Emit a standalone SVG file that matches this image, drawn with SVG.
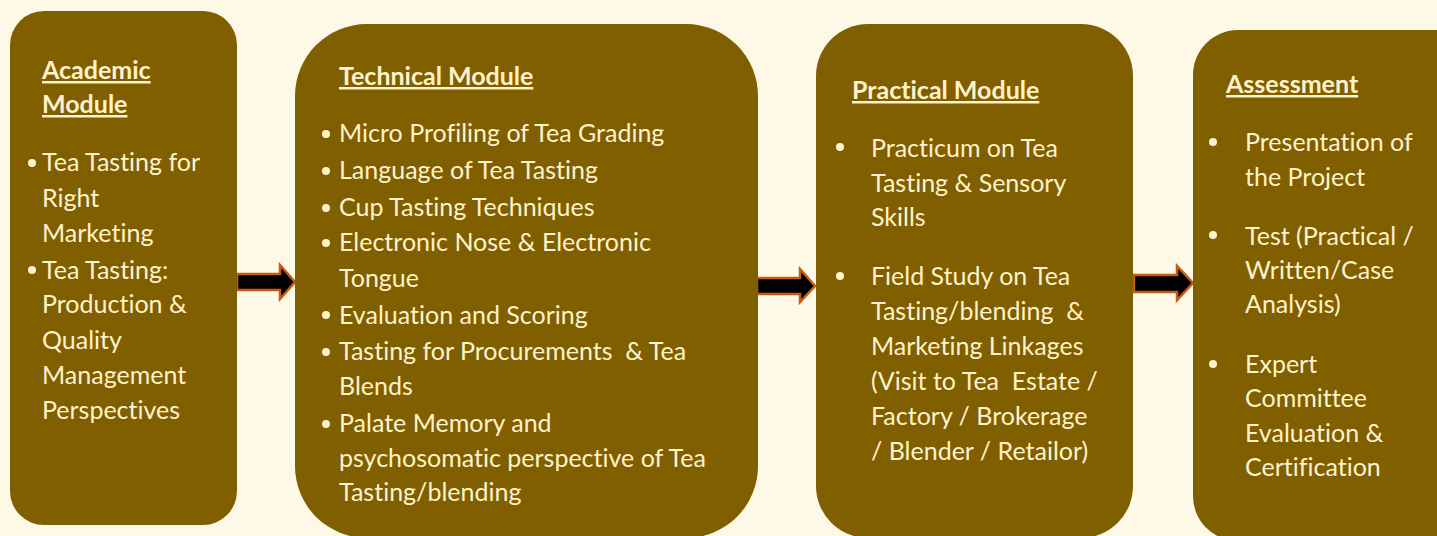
<svg xmlns="http://www.w3.org/2000/svg" width="1437" height="536" viewBox="0 0 1437 536">
<style>
.box{fill:#7F5F00}
text{font-family:Lato,"Open Sans","Liberation Sans",sans-serif;font-size:25px;fill:#FFF2CC;font-variant-ligatures:none}
.t{font-weight:bold;text-decoration:underline}
.dot{fill:#FFF2CC}
.arr{fill:#000000;stroke:#C55A11;stroke-width:2.5;stroke-linejoin:miter}
</style>
<rect width="1437" height="536" fill="#FEF8E7"/>
<g id="connectors">
<path class="arr" d="M237,274 H280 V265 L295,282 L280,299 V290 H237 Z"/>
<path class="arr" d="M757,278 H800 V269 L815,286 L800,302 V294 H757 Z"/>
<path class="arr" d="M1134,275 H1177 V266 L1193,283 L1177,300 V292 H1134 Z"/>
</g>
<g id="academic">
<rect class="box" x="10" y="11" width="227" height="514" rx="34"/>
<text class="t" x="42" y="79">Academic</text>
<text class="t" x="42" y="113">Module</text>
<circle class="dot" cx="32" cy="163" r="4"/>
<text x="42" y="171">Tea Tasting for</text>
<text x="42" y="207">Right</text>
<text x="42" y="242">Marketing</text>
<circle class="dot" cx="32" cy="270" r="4"/>
<text x="42" y="279">Tea Tasting:</text>
<text x="42" y="313">Production &amp;</text>
<text x="42" y="349">Quality</text>
<text x="42" y="384">Management</text>
<text x="42" y="419">Perspectives</text>
</g>
<g id="technical">
<rect class="box" x="295" y="24" width="463" height="514" rx="72"/>
<text class="t" x="339" y="85">Technical Module</text>
<circle class="dot" cx="326" cy="134" r="4"/>
<text x="339" y="142">Micro Profiling of Tea Grading</text>
<circle class="dot" cx="326" cy="171" r="4"/>
<text x="339" y="179">Language of Tea Tasting</text>
<circle class="dot" cx="326" cy="208" r="4"/>
<text x="339" y="216">Cup Tasting Techniques</text>
<circle class="dot" cx="326" cy="243" r="4"/>
<text x="339" y="251">Electronic Nose &amp; Electronic</text>
<text x="339" y="287">Tongue</text>
<circle class="dot" cx="326" cy="315" r="4"/>
<text x="339" y="324">Evaluation and Scoring</text>
<circle class="dot" cx="326" cy="352" r="4"/>
<text x="339" y="360" xml:space="preserve">Tasting for Procurements  &amp; Tea</text>
<text x="339" y="395">Blends</text>
<circle class="dot" cx="326" cy="424" r="4"/>
<text x="339" y="432">Palate Memory and</text>
<text x="339" y="467">psychosomatic perspective of Tea</text>
<text x="339" y="501">Tasting/blending</text>
</g>
<g id="practical">
<rect class="box" x="816" y="24" width="317" height="514" rx="52"/>
<text class="t" x="852" y="99">Practical Module</text>
<circle class="dot" cx="840" cy="147" r="4"/>
<text x="871" y="157">Practicum on Tea</text>
<text x="871" y="192">Tasting &amp; Sensory</text>
<text x="871" y="226">Skills</text>
<circle class="dot" cx="840" cy="276" r="4"/>
<text x="871" y="285">Field Study on Tea</text>
<text x="871" y="320" xml:space="preserve">Tasting/blending  &amp;</text>
<text x="871" y="355">Marketing Linkages</text>
<text x="871" y="390" xml:space="preserve">(Visit to Tea  Estate /</text>
<text x="871" y="425">Factory / Brokerage</text>
<text x="871" y="460">/ Blender / Retailor)</text>
</g>
<g id="assessment">
<rect class="box" x="1193" y="30" width="300" height="511" rx="45"/>
<text class="t" x="1226" y="93">Assessment</text>
<circle class="dot" cx="1213" cy="142" r="4"/>
<text x="1245" y="151">Presentation of</text>
<text x="1245" y="186">the Project</text>
<circle class="dot" cx="1213" cy="235" r="4"/>
<text x="1245" y="245">Test (Practical /</text>
<text x="1245" y="279">Written/Case</text>
<text x="1245" y="313">Analysis)</text>
<circle class="dot" cx="1213" cy="364" r="4"/>
<text x="1245" y="373">Expert</text>
<text x="1245" y="407">Committee</text>
<text x="1245" y="442">Evaluation &amp;</text>
<text x="1245" y="476">Certification</text>
</g>
</svg>
